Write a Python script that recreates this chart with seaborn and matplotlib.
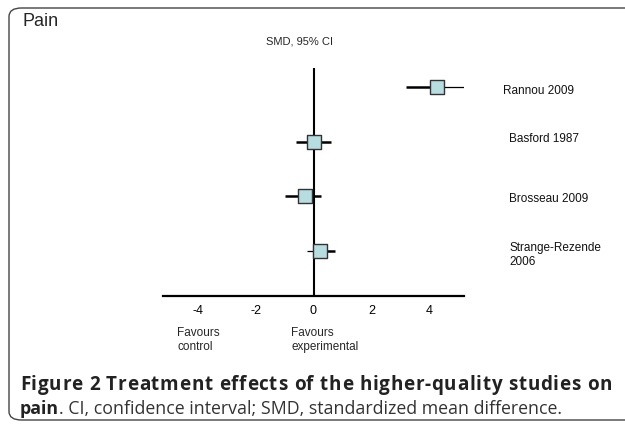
import matplotlib
matplotlib.use("Agg")
import matplotlib.pyplot as plt
import seaborn as sns
import pandas as pd
from matplotlib.patches import FancyBboxPatch
from matplotlib.font_manager import FontProperties, findfont, get_font

studies = ["Rannou 2009", "Basford 1987", "Brosseau 2009", "Strange-Rezende\n2006"]
smd = [4.25, 0.0, -0.31, 0.21]
ci_low = [3.2, -0.6, -0.99, -0.24]
ci_high = [5.2, 0.6, 0.27, 0.76]
xticks = [-4, -2, 0, 2, 4]

df = pd.DataFrame({"study": studies, "smd": smd, "lo": ci_low, "hi": ci_high,
                   "row": list(range(len(studies)))})

# line widths of the left / right CI arms (style only)
left_lw = [1.8, 1.8, 1.8, 0.9]
right_lw = [0.9, 1.8, 1.8, 1.8]

sns.set_style("white")
plt.rcParams["font.family"] = ["Liberation Sans", "DejaVu Sans"]

W, H = 625, 428
fig = plt.figure(figsize=(W / 100, H / 100), dpi=100)

# rounded frame
frame = FancyBboxPatch((9 / W, 8 / H), (W + 20 - 9) / W, (420 - 8) / H,
                       boxstyle="round,pad=0,rounding_size=0.02",
                       transform=fig.transFigure, fill=False,
                       edgecolor="#444444", linewidth=1.0, clip_on=False)
fig.patches.append(frame)

left, right = 163 / W, 464 / W
top, bottom = 1 - 68 / H, 1 - 296 / H
ax = fig.add_axes([left, bottom, right - left, top - bottom])

for i, r in df.iterrows():
    ax.hlines(r["row"], r["lo"], r["smd"], color="black", linewidth=left_lw[i], zorder=2)
    ax.hlines(r["row"], r["smd"], r["hi"], color="black", linewidth=right_lw[i], zorder=2)
ax.axvline(0, color="black", linewidth=1.5, zorder=1)
sns.scatterplot(data=df, x="smd", y="row", marker="s", s=88, color="#B8DDE0",
                edgecolor="#333333", linewidth=1.0, ax=ax, zorder=3, legend=False)

ax.set_xlim(-5.2, 5.2)
ax.set_ylim(3.82, -0.347)
for s in ["top", "left", "right"]:
    ax.spines[s].set_visible(False)
ax.spines["bottom"].set_linewidth(1.6)
ax.spines["bottom"].set_color("black")
ax.set_xticks(xticks)
ax.set_xticklabels([str(t) for t in xticks])
ax.tick_params(axis="x", direction="inout", length=9, width=1.5, labelsize=9,
               pad=2, colors="black")
ax.set_yticks([])
ax.set_xlabel("")
ax.set_ylabel("")
ax.patch.set_alpha(0)

# study labels
label_y = [91, 139, 199, 255]
for lab, yy in zip(studies, label_y):
    x0 = 503 if lab.startswith("Rannou") else 509
    fig.text(x0 / W, 1 - yy / H, lab, ha="left", va="center", fontsize=8.5,
             linespacing=1.15, color="#111111")

fig.text(22 / W, 1 - 22 / H, "Pain", ha="left", va="center", fontsize=13)
fig.text(300 / W, 1 - 41 / H, "SMD, 95% CI", ha="center", va="center", fontsize=8)
fig.text(177 / W, 1 - 340 / H, "Favours\ncontrol", ha="left", va="center",
         fontsize=8.5, linespacing=1.3)
fig.text(291 / W, 1 - 340 / H, "Favours\nexperimental", ha="left", va="center",
         fontsize=8.5, linespacing=1.3)

# caption: bold first line with letter spacing, spanning the full width
cap_size = 12.8
line1_size = 13.6
cap_col = "#222222"
renderer = fig.canvas.get_renderer()
bold_fp = FontProperties(family="Open Sans", weight="bold", size=line1_size)
ft = get_font(findfont(bold_fp))
ft.set_size(line1_size, 100)
line1 = "Figure 2 Treatment effects of the higher-quality studies on"
advs = []
for ch in line1:
    g = ft.load_char(ord(ch))
    advs.append(g.linearHoriAdvance / 65536.0)
x_start, x_end = 20, 612
natural = sum(advs[:-1])
last_t = fig.text(0, 0, line1[-1], fontproperties=bold_fp)
last_w = last_t.get_window_extent(renderer).width
last_t.remove()
track = (x_end - x_start - natural - last_w) / (len(line1) - 1)
x = x_start
for ch, a in zip(line1, advs):
    if ch != " ":
        fig.text(x / W, 1 - 390 / H, ch, ha="left", va="baseline",
                 fontproperties=bold_fp, color=cap_col)
    x += a + track

reg_font = ["Open Sans", "DejaVu Sans"]
t1 = fig.text(20 / W, 1 - 409 / H, "pain", ha="left", va="center", fontsize=cap_size,
              fontweight="bold", family=reg_font, color=cap_col)
bb = t1.get_window_extent(renderer)
fig.text(bb.x1 / W, 1 - 409 / H, ". CI, confidence interval; SMD, standardized mean difference.",
         ha="left", va="center", fontsize=cap_size, family=reg_font, color="#333333")

fig.savefig("out.png", dpi=100)
